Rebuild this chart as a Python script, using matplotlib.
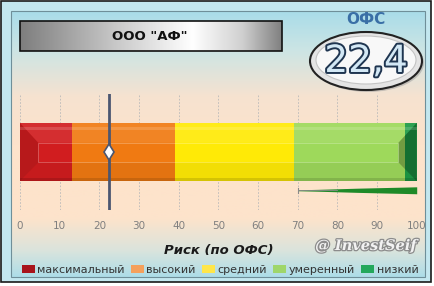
import numpy as np
import matplotlib
matplotlib.use("Agg")
import matplotlib.pyplot as plt
from matplotlib.patches import Rectangle, Ellipse, Patch, Polygon
from matplotlib.colors import LinearSegmentedColormap
import matplotlib.patheffects as pe

# ---------------- data ----------------
company = 'ООО "АФ"'
metric_name = "ОФС"
metric_value = 22.4
metric_label = "22,4"
zone_names = ["максимальный", "высокий", "средний", "умеренный", "низкий"]
zone_starts = [0, 13, 39, 69, 97]
zone_widths = [13, 26, 30, 28, 3]
bar_colors = ["#d11d1f", "#f07a12", "#ffea06", "#9ed95b", "#1d9a45"]
legend_colors = ["#a8141c", "#f5a05c", "#ffe64a", "#9fd66a", "#23a85c"]
ticks = [0, 10, 20, 30, 40, 50, 60, 70, 80, 90, 100]
tick_labels = [str(t) for t in ticks]
xlabel = "Риск (по ОФС)"
watermark = "@ InvestSeif"
wedge_x = [70, 75, 80, 85, 90, 95, 100]
wedge_half = [0.004, 0.008, 0.013, 0.018, 0.022, 0.026, 0.030]

W, H = 434, 286
fig = plt.figure(figsize=(W / 100, H / 100), dpi=100)
plt.rcParams['font.family'] = ['DejaVu Sans']

# ---------------- background frame ----------------
bg = fig.add_axes([0, 0, 1, 1])
bg.set_xlim(0, W)
bg.set_ylim(H, 0)
bg.axis("off")
bg.add_patch(Rectangle((0, 0), W, H, facecolor="white", edgecolor="none"))
bg.add_patch(Rectangle((1, 1), 430, 281, facecolor="#c3e7ef", edgecolor="#1a1a1a", lw=1.2))
grad = LinearSegmentedColormap.from_list(
    "bgc",
    [(0.0, "#a9dce9"), (0.15, "#cde5e4"), (0.32, "#f6e2d0"), (0.5, "#fde3cb"),
     (0.78, "#fde3cb"), (0.90, "#dbe4dc"), (1.0, "#addde8")])
g = np.linspace(0, 1, 256).reshape(-1, 1)
bg.imshow(g, cmap=grad, aspect="auto", extent=(11, 425, 277, 11), zorder=1)
bg.add_patch(Rectangle((11, 11), 414, 266, facecolor="none", edgecolor="#6f8f99", lw=0.8, zorder=2))

# title box with metallic gradient
tg = LinearSegmentedColormap.from_list(
    "tg", [(0.0, "#7e7e7e"), (0.4, "#cfcfcf"), (0.66, "#ffffff"), (0.85, "#d0d0d0"), (1.0, "#808080")])
h = np.linspace(0, 1, 256).reshape(1, -1)
bg.imshow(h, cmap=tg, aspect="auto", extent=(20, 282, 51, 21), zorder=3)
bg.add_patch(Rectangle((20, 21), 262, 30, facecolor="none", edgecolor="#111111", lw=1.2, zorder=4))
bg.text(150, 36, company, ha="center", va="center", fontsize=9.5, fontweight="bold",
        color="#111111", zorder=5)

# metric badge
bg.text(366, 20, metric_name, ha="center", va="center", fontsize=11, fontweight="bold",
        color="#3a6fa6", zorder=5)
bg.add_patch(Ellipse((368, 63), 112, 58, facecolor="#9a9a9a", edgecolor="none", alpha=0.5, zorder=3))
bg.add_patch(Ellipse((366, 61), 112, 58, facecolor="#e4e4e4", edgecolor="#222222", lw=1.5, zorder=4))
bg.add_patch(Ellipse((366, 60), 100, 48, facecolor="#f8f8f8", edgecolor="#c4c4c4", lw=0.8, zorder=4))
bg.text(366, 62, metric_label, ha="center", va="center", fontsize=27, color="#d3e8f5", zorder=6,
        path_effects=[pe.withStroke(linewidth=2.8, foreground="#1f3550")])

# watermark
bg.text(366, 246, watermark, ha="center", va="center", fontsize=10.5, fontweight="bold",
        fontstyle="italic", family="DejaVu Serif", color="#f2f2f2", zorder=5,
        path_effects=[pe.withStroke(linewidth=1.8, foreground="#8c8c8c")])

# ---------------- main axes ----------------
x0, x1 = 20, 416.7
ytop, ybot = 94, 210
ax = fig.add_axes([x0 / W, (H - ybot) / H, (x1 - x0) / W, (ybot - ytop) / H])
ax.set_xlim(0, 100)
ax.set_ylim(0, 1)
ax.patch.set_alpha(0)
for s in ax.spines.values():
    s.set_visible(False)
ax.set_yticks([])
ax.set_xticks(ticks)
ax.set_xticklabels(tick_labels)
ax.tick_params(axis="x", length=0, pad=8, labelsize=7.5, labelcolor="#7f7f7f")
ax.grid(axis="x", color="#b9b9b9", lw=0.6, ls=(0, (2, 2)))
ax.set_axisbelow(True)

ax.barh(0.5, zone_widths, left=zone_starts, height=0.5, color=bar_colors, edgecolor="none", zorder=2)
# subtle bevel effects
ins, yi0, yi1 = 4.6, 0.41, 0.58
ax.add_patch(Polygon([(0, 0.75), (100, 0.75), (100 - ins, yi1), (ins, yi1)],
                     facecolor="white", alpha=0.08, edgecolor="none", zorder=3))
ax.add_patch(Polygon([(0, 0.25), (100, 0.25), (100 - ins, yi0), (ins, yi0)],
                     facecolor="black", alpha=0.05, edgecolor="none", zorder=3))
ax.add_patch(Polygon([(0, 0.25), (0, 0.75), (ins, yi1), (ins, yi0)],
                     facecolor="black", alpha=0.12, edgecolor="none", zorder=3))
ax.add_patch(Polygon([(100, 0.25), (100, 0.75), (100 - ins, yi1), (100 - ins, yi0)],
                     facecolor="black", alpha=0.28, edgecolor="none", zorder=3))
ax.add_patch(Rectangle((0, 0.69), 100, 0.025, facecolor="white", alpha=0.15, edgecolor="none", zorder=3))
ax.add_patch(Rectangle((0, 0.25), 100, 0.025, facecolor="black", alpha=0.12, edgecolor="none", zorder=3))
ax.add_patch(Rectangle((ins, yi0), 100 - 2 * ins, yi1 - yi0, facecolor="none",
                       edgecolor="white", alpha=0.25, lw=0.7, zorder=3))

# small wedge
wx = np.array(wedge_x, dtype=float)
wh = np.array(wedge_half)
ax.fill_between(wx, 0.17 - wh, 0.17 + wh, color="#1e8a28", lw=0, zorder=2)
ax.plot([wedge_x[0], wedge_x[0]], [0.15, 0.19], color="#8a8a8a", lw=0.8, zorder=2)
ax.plot([wedge_x[0], wedge_x[2]], [0.17, 0.17], color="#8a8a8a", lw=0.6, zorder=2)

# marker line
ax.axvline(metric_value, color="#4b5671", lw=2, zorder=4)
ax.plot([metric_value], [0.5], marker="d", ms=8.5, mfc="white", mec="#4b5671", mew=1.2, zorder=5)

ax.set_xlabel(xlabel, fontsize=9.5, fontweight="bold", fontstyle="italic", color="#1a1a1a", labelpad=9)

# legend
handles = [Patch(facecolor=c, edgecolor="none", label=n) for n, c in zip(zone_names, legend_colors)]
fig.legend(handles=handles, loc="center", bbox_to_anchor=(220 / W, 1 - 270 / H), ncol=5,
           frameon=False, fontsize=8, handlelength=1.2, handleheight=0.8, handletextpad=0.2,
           columnspacing=0.55, borderpad=0, labelcolor="#333333")

fig.savefig("out.png", dpi=100)
